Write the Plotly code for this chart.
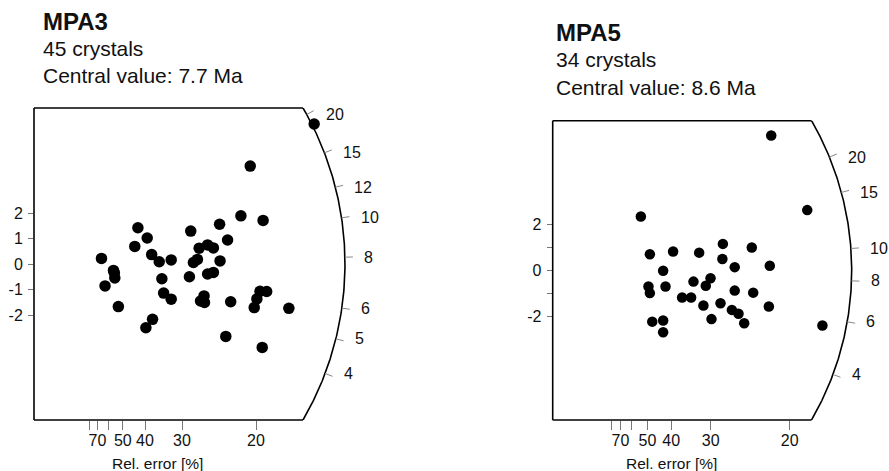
import numpy as np
import plotly.graph_objects as go

W, H = 889, 471
FONT = "Liberation Sans, Arial, sans-serif"

# ---------------- data (precision = 1/rel. error, standardised estimate) ----------------
mpa3_precision = [6.31, 4.87, 4.66, 5.16, 4.18, 3.53, 2.34, 2.55, 4.36, 2.27,
                  1.52, 2.65, 2.82, 3.09, 3.72, 3.91, 4.04, 3.59, 3.68, 4.19,
                  1.81, 1.82, 1.79, 1.60, 1.90, 2.88, 2.92, 3.09, 3.50, 3.91,
                  4.04, 3.75, 3.83, 3.84, 4.43, 2.67, 2.52, 4.32, 5.14, 5.09,
                  5.24, 5.02, 4.96, 5.74]
mpa3_z = [5.49, 3.84, 1.89, 1.71, 1.56, 1.29, 1.42, 1.02, 0.94, 0.69,
          0.22, 0.37, 0.09, 0.16, 0.62, 0.75, 0.63, 0.06, 0.18, 0.12,
          -0.35, -0.55, -0.25, -0.86, -1.67, -0.58, -1.14, -1.38, -0.50, -0.39,
          -0.33, -1.45, -1.25, -1.51, -1.48, -2.17, -2.50, -2.84, -3.27, -1.07,
          -1.08, -1.37, -1.71, -1.74]

mpa5_precision = [4.61, 5.37, 1.86, 2.05, 2.54, 3.09, 3.59, 4.20, 3.58, 3.84,
                  4.58, 2.33, 2.02, 2.05, 2.38, 2.97, 3.33, 3.23, 3.84, 4.23,
                  2.73, 2.92, 3.18, 3.54, 4.56, 3.78, 3.92, 4.04, 3.35, 2.10,
                  2.33, 2.33, 5.69]
mpa5_z = [5.86, 2.62, 2.34, 0.70, 0.82, 0.77, 1.15, 0.99, 0.49, 0.14,
          0.20, -0.02, -0.70, -0.99, -0.70, -0.49, -0.34, -0.67, -0.88, -0.97,
          -1.18, -1.18, -1.53, -1.43, -1.57, -1.72, -1.89, -2.30, -2.12, -2.23,
          -2.18, -2.69, -2.40]

mpa3_central = 7.7
mpa5_central = 8.6
mpa3_age_ticks = [4, 5, 6, 8, 10, 12, 15, 20]
mpa5_age_ticks = [4, 6, 8, 10, 15, 20]

relerr_ticks = [80, 70, 60, 50, 40, 30, 20]
relerr_labels = ["", "70", "", "50", "40", "30", "20"]

z_ticks = [-2, -1, 0, 1, 2]
mpa3_z_labels = ["-2", "-1", "0", "1", "2"]
mpa5_z_labels = ["-2", "", "0", "", "2"]

panels = [
    dict(name="MPA3", n="45 crystals", central=mpa3_central,
         px=mpa3_precision, z=mpa3_z, ages=mpa3_age_ticks, zlab=mpa3_z_labels,
         ox=34.0, oy=264.0, sx=44.4, sy=25.5, half=156.0, R=311.0, right=410.0,
         msize=11.5, tx=41.0, tb=[30.0, 56.0, 83.0], xlab=157.5),
    dict(name="MPA5", n="34 crystals", central=mpa5_central,
         px=mpa5_precision, z=mpa5_z, ages=mpa5_age_ticks, zlab=mpa5_z_labels,
         ox=552.7, oy=270.35, sx=47.4, sy=23.0, half=149.65, R=299.0, right=885.0,
         msize=10.5, tx=553.5, tb=[41.0, 67.0, 94.5], xlab=671.0),
]

fig = go.Figure()
shapes = []
annotations = []

for i, p in enumerate(panels):
    sfx = "" if i == 0 else str(i + 1)
    xa, ya = "x" + sfx, "y" + sfx
    xmax = (p["right"] - p["ox"]) / p["sx"]
    ymax = p["half"] / p["sy"]
    xdom = [p["ox"] / W, p["right"] / W]
    ydom = [1 - (p["oy"] + p["half"]) / H, 1 - (p["oy"] - p["half"]) / H]

    fig.update_layout(**{
        "xaxis" + sfx: dict(domain=xdom, range=[0, xmax], anchor=ya,
                            tickmode="array",
                            tickvals=[100.0 / r for r in relerr_ticks],
                            ticktext=relerr_labels, ticks="outside", ticklen=9,
                            tickwidth=1, tickcolor="#777", showgrid=False,
                            zeroline=False, showline=False, ticklabelstandoff=-3,
                            tickfont=dict(family=FONT, size=16, color="#111")),
        "yaxis" + sfx: dict(domain=ydom, range=[-ymax, ymax], anchor=xa,
                            tickmode="array", tickvals=z_ticks, ticktext=p["zlab"],
                            ticks="outside", ticklen=5, tickwidth=1, tickcolor="#777",
                            showgrid=False, zeroline=False, showline=False,
                            ticklabelstandoff=2,
                            tickfont=dict(family=FONT, size=16, color="#111")),
    })

    # arc
    tc = np.arcsin(p["half"] / p["R"])
    th = np.linspace(-tc, tc, 200)
    fig.add_trace(go.Scatter(x=p["R"] * np.cos(th) / p["sx"], y=p["R"] * np.sin(th) / p["sy"],
                             mode="lines", line=dict(color="black", width=1.6),
                             xaxis=xa, yaxis=ya, hoverinfo="skip", showlegend=False))
    # box top / bottom / left
    cx = p["R"] * np.cos(tc) / p["sx"] / xmax
    for (x0, y0, x1, y1) in [(0, 0, cx, 0), (0, 1, cx, 1), (0, 0, 0, 1)]:
        shapes.append(dict(type="line", xref=xa + " domain", yref=ya + " domain",
                           x0=x0, y0=y0, x1=x1, y1=y1,
                           line=dict(color="black", width=1.6)))

    # age ticks on the arc
    tx, ty = [], []
    for t in p["ages"]:
        a = np.arctan2(np.log(t / p["central"]) * p["sy"], p["sx"])
        tx += [p["R"] * np.cos(a) / p["sx"], (p["R"] + 8) * np.cos(a) / p["sx"], None]
        ty += [p["R"] * np.sin(a) / p["sy"], (p["R"] + 8) * np.sin(a) / p["sy"], None]
        annotations.append(dict(x=(p["R"] * np.cos(a) + 17) / p["sx"],
                                y=p["R"] * np.sin(a) / p["sy"], xref=xa, yref=ya,
                                text=str(t), showarrow=False, xanchor="left",
                                yanchor="middle",
                                font=dict(family=FONT, size=16, color="#111")))
    fig.add_trace(go.Scatter(x=tx, y=ty, mode="lines", line=dict(color="#888", width=1),
                             xaxis=xa, yaxis=ya, hoverinfo="skip", showlegend=False))

    # data points
    fig.add_trace(go.Scatter(x=p["px"], y=p["z"], mode="markers",
                             marker=dict(color="black", size=p["msize"]),
                             xaxis=xa, yaxis=ya, cliponaxis=False, showlegend=False))

    # titles
    lines = [("<b>%s</b>" % p["name"], 24), (p["n"], 21),
             ("Central value: %s Ma" % p["central"], 21)]
    for (txt, fs), base in zip(lines, p["tb"]):
        annotations.append(dict(x=p["tx"] / W, y=1 - (base - 0.35 * fs) / H,
                                xref="paper", yref="paper", text=txt, showarrow=False,
                                xanchor="left", yanchor="middle",
                                font=dict(family=FONT, size=fs, color="#111")))
    annotations.append(dict(x=p["xlab"] / W, y=1 - 463 / H, xref="paper", yref="paper",
                            text="Rel. error [%]", showarrow=False, xanchor="center",
                            yanchor="middle",
                            font=dict(family=FONT, size=15.5, color="#111")))

fig.update_layout(width=W, height=H, margin=dict(l=0, r=0, t=0, b=0),
                  paper_bgcolor="white", plot_bgcolor="white",
                  shapes=shapes, annotations=annotations, showlegend=False)

fig.write_html("out.html")
